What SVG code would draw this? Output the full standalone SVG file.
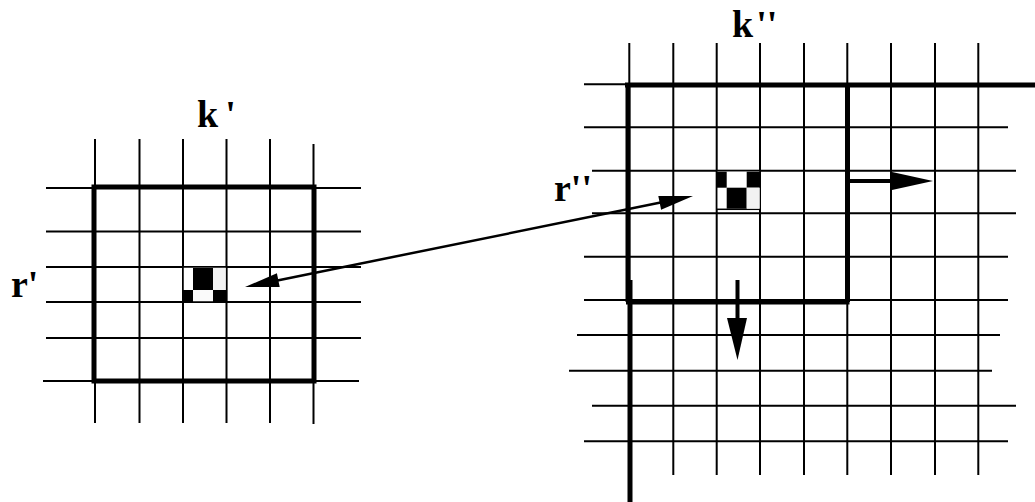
<svg xmlns="http://www.w3.org/2000/svg" width="1035" height="502" viewBox="0 0 1035 502">
<style>
.g{stroke:#000;stroke-width:2;fill:none}
.t{stroke:#000;stroke-width:5;fill:none}
.lbl{font-family:"Liberation Serif","Times New Roman",serif;font-weight:bold;font-size:38px;fill:#000}
.blk{fill:#000}
.lt{fill:#f2f2f2}
</style>
<rect width="1035" height="502" fill="#fff"/>
<g id="grid-left">
<path class="g" d="M95,139V423M139.5,139V423M183,139V423M226.5,139V423M270,139V423M313.5,144V424"/>
<path class="g" d="M46,188H361M46,231.5H361M46,267H361M46,302H361M46,338H361M43,381H359"/>
<rect class="t" x="94" y="187" width="220" height="194"/>
</g>
<g id="cell-left">
<rect x="183" y="267" width="43.5" height="35" fill="#fff" stroke="#000" stroke-width="1.5"/>
<rect class="blk" x="193" y="268" width="20" height="22"/>
<rect class="lt" x="213" y="268" width="12.5" height="22"/>
<rect class="blk" x="183" y="290" width="10" height="12"/>
<rect fill="#fafafa" x="193" y="290" width="20" height="11"/>
<rect class="blk" x="213" y="290" width="13.5" height="12"/>
</g>
<g id="label-k1"><text class="lbl" x="197" y="127">k<tspan dx="7">'</tspan></text></g>
<g id="label-r1"><text class="lbl" x="11" y="297">r'</text></g>
<g id="grid-right">
<path class="g" d="M629.3,43V475M673.3,43V475M716.7,43V475M760,43V475M804,43V475M847.3,43V475M891,43V475M935,43V475M978.3,43V475"/>
<path class="g" d="M584,84.3H1008M584,127.3H1008M592,170.7H1016M592,213.3H1016M584,256.7H1008M584,300H1008M577,335H1000M569,370.7H992M592,405.7H1016M584,441.3H1008"/>
<path class="t" d="M625,85H1035M628,85V302M847.5,85V302M626,302H849.5"/>
<path class="t" d="M630,280V502"/>
</g>
<g id="cell-right">
<rect x="716.7" y="170.7" width="43.3" height="38.6" fill="#fff" stroke="#000" stroke-width="1.5"/>
<rect class="blk" x="716.7" y="171.7" width="10" height="16"/>
<rect class="blk" x="746.7" y="171.7" width="13.3" height="16"/>
<rect class="blk" x="726.7" y="187.7" width="20" height="21"/>
<rect class="lt" x="746.7" y="187.7" width="13" height="21"/>
</g>
<g id="label-k2"><text class="lbl" x="732" y="37">k<tspan dx="3">''</tspan></text></g>
<g id="label-r2"><text class="lbl" x="554" y="201">r''</text></g>
<g id="connectors">
<line x1="270" y1="282" x2="668" y2="201" stroke="#000" stroke-width="2.5"/>
<polygon class="blk" points="245,287 276.9,273.3 279.7,287.1"/>
<polygon class="blk" points="693,196 658.3,195.9 661.1,209.7"/>
<line x1="849" y1="181" x2="895" y2="181" stroke="#000" stroke-width="4"/>
<polygon class="blk" points="892,172 933,181 892,190"/>
<line x1="737.5" y1="280" x2="737.5" y2="320" stroke="#000" stroke-width="4"/>
<polygon class="blk" points="727,318 747,318 737.5,360"/>
</g>
</svg>
